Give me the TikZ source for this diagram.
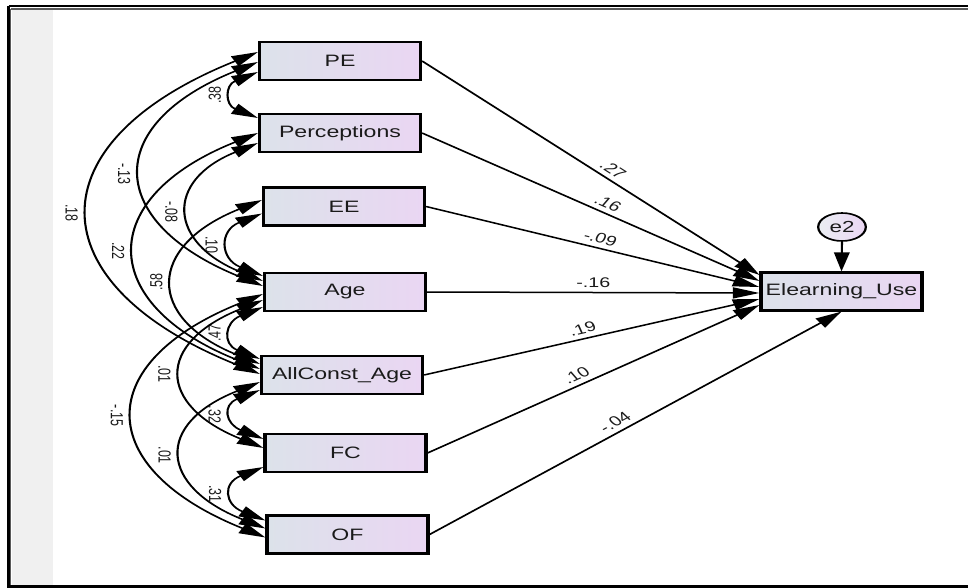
\documentclass[tikz,border=0pt]{standalone}
\usepackage{fontspec}
\setmainfont{Liberation Sans}
\usetikzlibrary{arrows.meta,calc,shapes.geometric}
\definecolor{boxL}{HTML}{DCE2EA}
\definecolor{boxR}{HTML}{EAD6F3}
\definecolor{panel}{HTML}{F0F0F0}
\definecolor{ink}{HTML}{1A1A1A}
\definecolor{rim}{HTML}{5A5A5A}
\begin{document}
\begin{tikzpicture}[x=1pt,y=-1pt,
  var/.style={draw=black, line width=2.2pt, left color=boxL, right color=boxR,
    minimum width=115pt, minimum height=38pt, inner sep=0pt,
    font=\fontsize{16.5}{19}\selectfont, text=ink},
  errc/.style={ellipse, draw=black, line width=1.6pt, left color=boxL!60!white,
    right color=boxR, minimum width=34pt, minimum height=28pt, inner sep=0pt,
    font=\fontsize{16}{18}\selectfont, text=ink},
  cov/.style={line width=1.5pt,
    {Triangle[length=19pt,width=11pt]}-{Triangle[length=19pt,width=11pt]}},
  reg/.style={line width=1.5pt, -{Triangle[length=19pt,width=11pt]}},
  clab/.style={font=\fontsize{12.5}{14}\selectfont, text=ink, inner sep=8pt, pos=0.5},
  rlab/.style={font=\fontsize{14}{16}\selectfont, text=ink, inner sep=4pt, sloped, above},
]
\useasboundingbox (0,0) rectangle (968,588);

% window frame and grey side panel
\fill[panel] (11.5,9.7) rectangle (53,585.3);
\draw[rim, line width=1.5pt] (10.7,8.9) -- (990,8.9);
\draw[rim, line width=1.5pt] (10.7,8.9) -- (10.7,585.3);
\draw[black, line width=2.7pt] (8.6,6) -- (990,6);
\draw[black, line width=2.7pt] (8.6,6) -- (8.6,586.7) -- (990,586.7);

% the path diagram, drawn narrow and widened by the canvas
\begin{scope}[transform canvas={xscale=1.4}, x=0.714286pt]
  \node[var] (PE) at (340,61) {PE};
  \node[var] (PC) at (340,133) {Perceptions};
  \node[var] (EE) at (344,206.5) {EE};
  \node[var] (AG) at (345,292) {Age};
  \node[var] (AC) at (342,375) {AllConst\_Age};
  \node[var] (FC) at (345.5,453) {FC};
  \node[var] (OF) at (347.5,534.5) {OF};
  \node[var] (EU) at (841.5,291.5) {Elearning\_Use};
  \node[errc] (E2) at (842,227) {e2};

  % covariances among the predictors
  \draw[cov] ($(PE.west)+(0,11)$) .. controls +(-33,13) and +(-33,-13) .. ($(PC.west)+(0,-15)$)
    node[clab, rotate=90, anchor=south] {.38};
  \draw[cov] ($(PE.west)+(0,1)$) .. controls +(-157,63) and +(-157,-63) .. ($(AG.west)+(0,-6)$)
    node[clab, rotate=-90, anchor=north] {-.13};
  \draw[cov] ($(PE.west)+(0,-9)$) .. controls +(-225,90) and +(-225,-90) .. ($(AC.west)+(0,-1)$)
    node[clab, rotate=-90, anchor=north] {.18};
  \draw[cov] ($(PC.west)+(0,0)$) .. controls +(-163,65) and +(-163,-65) .. ($(AC.west)+(0,-6)$)
    node[clab, rotate=-90, anchor=north] {.22};
  \draw[cov] ($(PC.west)+(0,10)$) .. controls +(-94,38) and +(-94,-38) .. ($(AG.west)+(0,-11)$)
    node[clab, rotate=-90, anchor=north] {-.08};
  \draw[cov] ($(EE.west)+(0,-6.5)$) .. controls +(-115,46) and +(-115,-46) .. ($(AC.west)+(0,-11)$)
    node[clab, rotate=90, anchor=south] {.58};
  \draw[cov] ($(EE.west)+(0,7)$) .. controls +(-43,17) and +(-43,-17) .. ($(AG.west)+(0,-16)$)
    node[clab, rotate=-90, anchor=north] {.10};
  \draw[cov] ($(AG.west)+(0,15)$) .. controls +(-38,15) and +(-38,-15) .. ($(AC.west)+(0,-16)$)
    node[clab, rotate=90, anchor=south] {.47};
  \draw[cov] ($(AG.west)+(0,8)$) .. controls +(-107,43) and +(-107,-43) .. ($(FC.west)+(0,-5)$)
    node[clab, rotate=-90, anchor=north] {.01};
  \draw[cov] ($(AG.west)+(0,2)$) .. controls +(-172,69) and +(-172,-69) .. ($(OF.west)+(0,3)$)
    node[clab, rotate=-90, anchor=north] {-.15};
  \draw[cov] ($(AC.west)+(0,15)$) .. controls +(-38,15) and +(-38,-15) .. ($(FC.west)+(0,-14)$)
    node[clab, rotate=-90, anchor=north] {.32};
  \draw[cov] ($(AC.west)+(0,7)$) .. controls +(-106,42) and +(-106,-42) .. ($(OF.west)+(0,-6)$)
    node[clab, rotate=-90, anchor=north] {.01};
  \draw[cov] ($(FC.west)+(0,14)$) .. controls +(-41,16) and +(-41,-16) .. ($(OF.west)+(0,-14)$)
    node[clab, rotate=-90, anchor=north] {.31};

  % regression paths into Elearning_Use
  \draw[reg] (PE.east) -- ($(EU.west)+(0,-16.5)$) node[rlab, pos=0.54] {.27};
  \draw[reg] (PC.east) -- ($(EU.west)+(0,-10.5)$) node[rlab, pos=0.53] {.16};
  \draw[reg] (EE.east) -- ($(EU.west)+(0,-4.5)$) node[rlab, pos=0.51] {-.09};
  \draw[reg] (AG.east) -- ($(EU.west)+(0,1.5)$) node[rlab, pos=0.50] {-.16};
  \draw[reg] (AC.east) -- ($(EU.west)+(0,7.5)$) node[rlab, pos=0.485] {.19};
  \draw[reg] (FC.east) -- ($(EU.west)+(0,13.5)$) node[rlab, pos=0.47] {.10};
  \draw[reg] (OF.east) -- (EU.south) node[rlab, pos=0.47] {-.04};

  % residual
  \draw[reg] (E2.south) -- (EU.north);
\end{scope}
\end{tikzpicture}
\end{document}
